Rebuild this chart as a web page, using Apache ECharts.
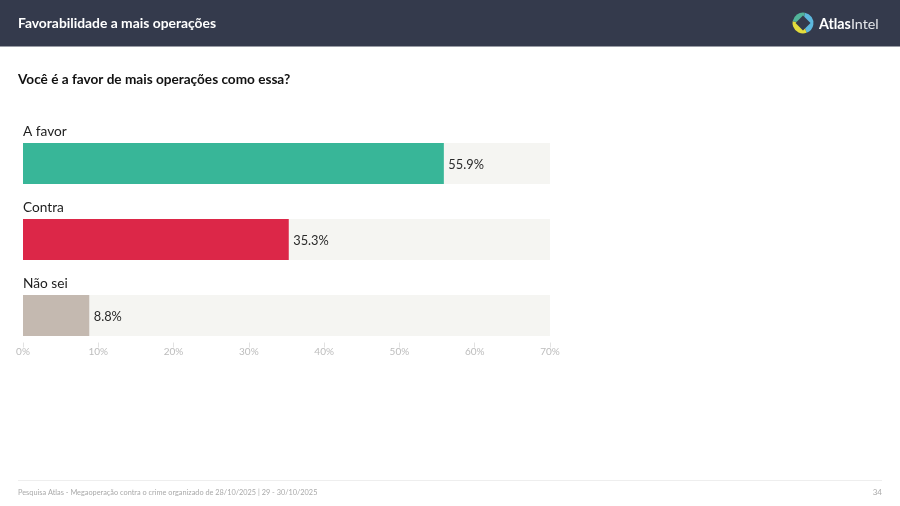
<!DOCTYPE html>
<html><head><meta charset="utf-8">
<style>html,body{margin:0;padding:0;background:#fff}#c{width:900px;height:506px}</style>
<script src="https://cdn.jsdelivr.net/npm/echarts@6/dist/echarts.min.js"></script>
</head><body><div id="c"></div>
<script>
const categories = ['A favor', 'Contra', 'Não sei'];
const values = [55.9, 35.3, 8.8];
const barColors = ['#38b698', '#dc2748', '#c4b9b0'];
const tickStep = 10;
const axisMax = 70;
const headerTitle = 'Favorabilidade a mais operações';
const question = 'Você é a favor de mais operações como essa?';
const footerText = 'Pesquisa Atlas - Megaoperação contra o crime organizado de 28/10/2025 | 29 - 30/10/2025';
const pageNumber = '34';

const chart = echarts.init(document.getElementById('c'), null, {renderer: 'canvas'});
const font = 'Lato';
const ring = (a0, a1, color) => ({
  type: 'sector',
  shape: {cx: 803, cy: 23, r0: 0, r: 10.5, startAngle: a0 * Math.PI / 180, endAngle: a1 * Math.PI / 180},
  style: {fill: color}, z: 11
});
chart.setOption({
  animation: false,
  backgroundColor: '#fff',
  grid: {left: 23, width: 527, top: 125.5, height: 228, containLabel: false},
  xAxis: {
    type: 'value', min: 0, max: axisMax, interval: tickStep, offset: -11,
    axisLine: {show: false},
    axisTick: {show: true, length: 5, lineStyle: {color: '#e2e2e2', width: 1}},
    splitLine: {show: false},
    axisLabel: {formatter: '{value}%', color: '#bcbcbc', fontFamily: font, fontSize: 10, margin: 4.5}
  },
  yAxis: {
    type: 'category', data: categories, inverse: true,
    axisLine: {show: false}, axisTick: {show: false}, axisLabel: {show: false}
  },
  series: [
    {
      type: 'bar', barWidth: 41, barGap: '-100%', silent: true,
      data: categories.map(() => axisMax),
      itemStyle: {color: '#f5f5f2'},
      label: {
        show: true, position: [0, -18], formatter: p => p.name,
        color: '#1d1d1d', fontFamily: font, fontSize: 13.7
      },
      z: 1
    },
    {
      type: 'bar', barWidth: 41, barGap: '-100%',
      data: values.map((v, i) => ({value: v, itemStyle: {color: barColors[i]}})),
      label: {
        show: true, position: 'right', distance: 4.5, formatter: p => p.value.toFixed(1) + '%',
        color: '#2a2a2a', fontFamily: font, fontSize: 12.8, offset: [0, 1]
      },
      z: 2
    }
  ],
  graphic: [
    {type: 'rect', shape: {x: 0, y: 0, width: 900, height: 46.5}, style: {fill: '#343a4c'}, z: 10},
    {type: 'text', x: 18, y: 23.5, style: {text: headerTitle, fill: '#fff', font: '700 13.85px ' + font, textVerticalAlign: 'middle'}, z: 11},
    {type: 'text', x: 18, y: 80, style: {text: question, fill: '#111', font: '700 13.6px ' + font, textVerticalAlign: 'middle'}, z: 11},
    ring(-80, 70, '#5cb8de'),
    ring(70, 190, '#e3dc3c'),
    ring(190, 280, '#52b49a'),
    {type: 'polygon', shape: {points: [[803, 15.5], [810.5, 23], [803, 30.5], [795.5, 23]]}, style: {fill: '#343a4c'}, z: 12},
    {type: 'text', x: 819, y: 24, style: {
      rich: {a: {font: '700 14.3px ' + font, fill: '#fff'}, b: {font: '400 14.3px ' + font, fill: '#e6e8ec'}},
      text: '{a|Atlas}{b|Intel}', textVerticalAlign: 'middle'}, z: 11},
    {type: 'line', shape: {x1: 18, y1: 480.5, x2: 882, y2: 480.5}, style: {stroke: '#eeeeee', lineWidth: 1}},
    {type: 'text', x: 18, y: 492.5, style: {text: footerText, fill: '#aaaaaa', font: '400 7.35px ' + font, textVerticalAlign: 'middle'}},
    {type: 'text', x: 882, y: 492, style: {text: pageNumber, fill: '#aaaaaa', font: '400 8px ' + font, textAlign: 'right', textVerticalAlign: 'middle'}}
  ]
});
</script></body></html>
